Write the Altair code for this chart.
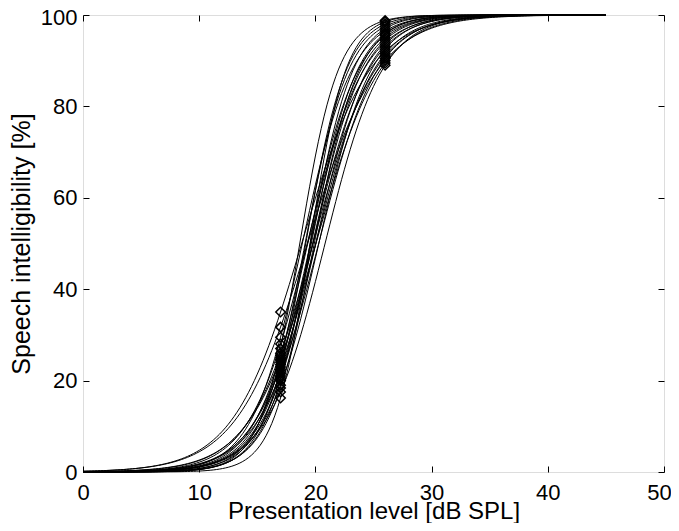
import altair as alt
import numpy as np
import pandas as pd

# Measured intelligibility (%) of each listener at the two test levels (dB SPL)
level_low = 17
level_high = 26
score_at_low = [35.0, 31.7, 29.5, 28.0, 27.0, 26.0, 25.5, 25.0, 24.5, 24.0, 23.5,
                23.0, 22.5, 22.0, 21.5, 21.0, 20.5, 20.0, 19.0, 18.4, 17.5, 16.2]
score_at_high = [92.0, 90.0, 96.5, 94.0, 98.8, 91.0, 95.5, 89.5, 97.5, 93.0, 95.0,
                 91.5, 98.0, 94.5, 90.5, 96.0, 93.5, 97.0, 92.5, 95.8, 89.0, 98.5]
x_ticks = [0, 10, 20, 30, 40, 50]
y_ticks = [0, 20, 40, 60, 80, 100]
x_curve_range = (0, 45)

# Logistic psychometric function passing through each listener's two measurements
grid = np.arange(x_curve_range[0], x_curve_range[1] + 0.001, 0.25)
rows = []
for i, (a, b) in enumerate(zip(score_at_low, score_at_high)):
    l1 = np.log(a / (100 - a))
    l2 = np.log(b / (100 - b))
    s = (l2 - l1) / (level_high - level_low)
    m = level_low - l1 / s
    yv = 100 / (1 + np.exp(-s * (grid - m)))
    for xv, yy in zip(grid, yv):
        rows.append({"curve": i, "x": float(xv), "y": float(yy)})
curves = pd.DataFrame(rows)

pts = pd.DataFrame(
    [{"x": level_low, "y": v} for v in score_at_low]
    + [{"x": level_high, "y": v} for v in score_at_high]
)

W, H = 581, 457
FONT = "Liberation Sans"
xs = alt.Scale(domain=[0, 50], nice=False, zero=False)
ys = alt.Scale(domain=[0, 100], nice=False, zero=False)

lines = alt.Chart(curves).mark_line(color="black", strokeWidth=1.0).encode(
    x=alt.X("x:Q", scale=xs, axis=alt.Axis(
        orient="bottom", values=x_ticks, ticks=False, domain=False, grid=False,
        labelFontSize=22, labelPadding=10, labelFlush=False, labelOverlap=False,
        labelOffset={"condition": {"test": "datum.value == 50", "value": -5}, "value": 0},
        labelColor="black", labelFont=FONT,
        title="Presentation level [dB SPL]", titleFontSize=24, titleFont=FONT,
        titleFontWeight="normal", titleColor="black", titleY=27,
        titleBaseline="top", titleX=W / 2)),
    y=alt.Y("y:Q", scale=ys, axis=alt.Axis(
        orient="left", values=y_ticks, ticks=False, domain=False, grid=False,
        labelFontSize=22, labelPadding=6, labelFlush=False, labelOverlap=False,
        labelOffset={"condition": {"test": "datum.value == 100", "value": 2}, "value": 0},
        labelColor="black", labelFont=FONT,
        title="Speech intelligibility [%]", titleFontSize=25, titleFont=FONT,
        titleFontWeight="normal", titleColor="black", titleX=-54,
        titleY=H / 2, titleBaseline="alphabetic", titleAngle=270)),
    detail="curve:N",
)

ghost = alt.Chart(pts).mark_point(opacity=0).encode(
    x=alt.X("x:Q", scale=xs, axis=alt.Axis(
        orient="top", offset=-H, values=x_ticks, labels=False, domain=False,
        grid=False, ticks=True, tickSize=6, tickColor="black", title=None)),
    y=alt.Y("y:Q", scale=ys, axis=alt.Axis(
        orient="right", offset=-W, values=y_ticks, labels=False, domain=False,
        grid=False, ticks=True, tickSize=6, tickColor="black", title=None)),
)

diamonds = alt.Chart(pts).mark_point(
    shape="diamond", filled=False, color="black", strokeWidth=1.5, size=90, opacity=1
).encode(
    x=alt.X("x:Q", scale=xs, axis=alt.Axis(
        orient="bottom", offset=-H, values=x_ticks, labels=False, domain=False,
        grid=False, ticks=True, tickSize=6, tickColor="black", title=None)),
    y=alt.Y("y:Q", scale=ys, axis=alt.Axis(
        orient="left", offset=-W, values=y_ticks, labels=False, domain=False,
        grid=False, ticks=True, tickSize=6, tickColor="black", title=None)),
)

chart = (
    alt.layer(lines, ghost, diamonds)
    .resolve_axis(x="independent", y="independent")
    .properties(
        width=W, height=H,
        autosize=alt.AutoSizeParams(type="none"),
        padding={"left": 75, "top": 7, "right": 7, "bottom": 51},
        background="white",
    )
    .configure_view(stroke="black", strokeWidth=1)
    .configure(font=FONT)
)

chart.save("out.html", embed_options={"renderer": "svg", "actions": False})
